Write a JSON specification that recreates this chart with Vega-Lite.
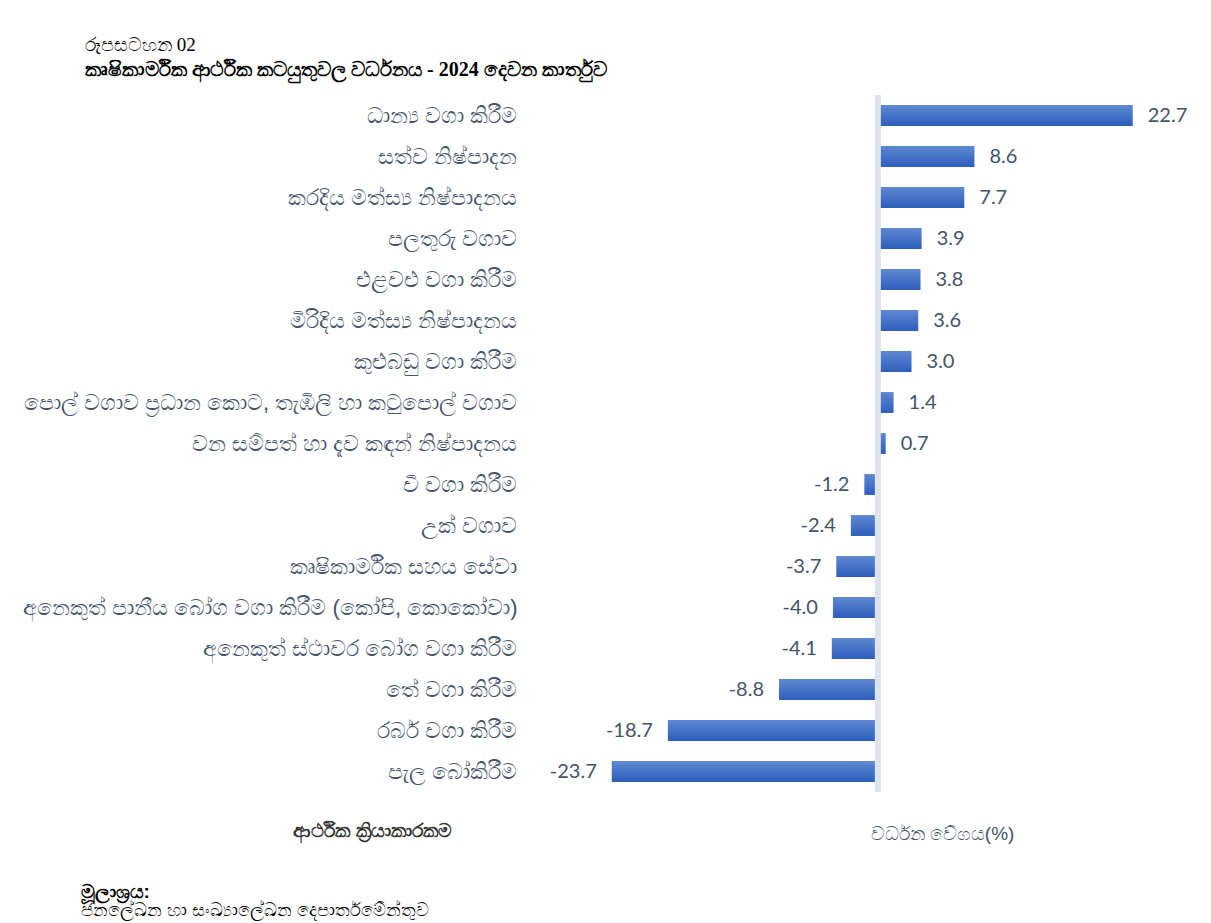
{
  "$schema": "https://vega.github.io/schema/vega-lite/v6.json",
  "width": 640,
  "height": 697,
  "autosize": {"type": "none"},
  "padding": {"left": 541, "top": 95, "right": 30, "bottom": 131},
  "background": "white",
  "config": {
    "view": {"stroke": null},
    "locale": {"number": {"decimal": ".", "thousands": ",", "grouping": [3], "currency": ["$", ""], "minus": "-"}}
  },
  "title": {
    "text": "රූපසටහන 02",
    "subtitle": "කෘෂිකාර්මික ආර්ථික කටයුතුවල වර්ධනය -  2024 දෙවන කාර්තුව",
    "anchor": "start",
    "frame": "group",
    "dx": -456,
    "font": "Liberation Serif",
    "fontSize": 19,
    "fontWeight": "normal",
    "color": "#000000",
    "subtitleFont": "Liberation Serif",
    "subtitleFontSize": 20,
    "subtitleFontWeight": "bold",
    "subtitleColor": "#000000",
    "subtitlePadding": 5,
    "offset": 12
  },
  "data": {
    "values": [
      {"activity": "ධාන්‍ය වගා කිරීම", "growth": 22.7},
      {"activity": "සත්ව නිෂ්පාදන", "growth": 8.6},
      {"activity": "කරදිය මත්ස්‍ය  නිෂ්පාදනය", "growth": 7.7},
      {"activity": "පලතුරු වගාව", "growth": 3.9},
      {"activity": "එළවළු වගා කිරීම", "growth": 3.8},
      {"activity": "මිරිදිය මත්ස්‍ය නිෂ්පාදනය", "growth": 3.6},
      {"activity": "කුළුබඩු වගා කිරීම", "growth": 3.0},
      {"activity": "පොල් වගාව ප්‍රධාන කොට, තැඹිලි  හා කටුපොල් වගාව", "growth": 1.4},
      {"activity": "වන සම්පත් හා දැව කඳන් නිෂ්පාදනය", "growth": 0.7},
      {"activity": "වී වගා කිරීම", "growth": -1.2},
      {"activity": "උක් වගාව", "growth": -2.4},
      {"activity": "කෘෂිකාර්මික සහය සේවා", "growth": -3.7},
      {"activity": "අනෙකුත් පානීය බෝග වගා කිරීම (කෝපි, කොකෝවා)", "growth": -4.0},
      {"activity": "අනෙකුත් ස්ථාවර බෝග වගා කිරීම", "growth": -4.1},
      {"activity": "තේ වගා කිරීම", "growth": -8.8},
      {"activity": "රබර් වගා කිරීම", "growth": -18.7},
      {"activity": "පැල බෝකිරීම", "growth": -23.7}
    ]
  },
  "resolve": {"axis": {"x": "independent"}},
  "layer": [
    {
      "mark": {
        "type": "bar",
        "color": {
          "gradient": "linear",
          "x1": 0, "y1": 0, "x2": 0, "y2": 1,
          "stops": [
            {"offset": 0, "color": "#6088d2"},
            {"offset": 1, "color": "#2c5ebc"}
          ]
        }
      },
      "encoding": {
        "y": {
          "field": "activity",
          "type": "nominal",
          "sort": null,
          "scale": {"paddingInner": 0.49, "paddingOuter": 0.245},
          "axis": {
            "title": "ආර්ථික ක්‍රියාකාරකම",
            "titleAngle": 0,
            "titleX": -169,
            "titleY": 735,
            "titleAlign": "center",
            "titleBaseline": "middle",
            "titleFontWeight": "bold",
            "titleFontSize": 19,
            "titleColor": "#333333",
            "domain": false,
            "ticks": false,
            "grid": false,
            "labelPadding": 24,
            "labelFontSize": 22,
            "labelColor": "#44546a",
            "labelLimit": 700
          }
        },
        "x": {
          "field": "growth",
          "type": "quantitative",
          "scale": {"domain": [-30, 27], "nice": false},
          "axis": {
            "orient": "bottom",
            "title": "වර්ධන වේගය(%)",
            "labels": false,
            "ticks": false,
            "domain": false,
            "grid": false,
            "titleX": 401,
            "titleY": 41,
            "titleAlign": "center",
            "titleBaseline": "middle",
            "titleFontSize": 19,
            "titleFontWeight": "normal",
            "titleColor": "#44546a"
          }
        }
      }
    },
    {
      "data": {"values": [{"zero": 0}]},
      "mark": {"type": "rule", "color": "#dde3eb", "strokeWidth": 6},
      "encoding": {"x": {"field": "zero", "type": "quantitative", "axis": null}}
    },
    {
      "transform": [{"filter": "datum.growth >= 0"}],
      "mark": {"type": "text", "align": "left", "baseline": "middle", "dx": 15, "font": "Lato", "fontSize": 20, "color": "#44546a"},
      "encoding": {
        "y": {"field": "activity", "type": "nominal", "sort": null},
        "x": {
          "field": "growth",
          "type": "quantitative",
          "axis": {
            "orient": "bottom",
            "title": "මූලාශ්‍රය:",
            "labels": false,
            "ticks": false,
            "domain": false,
            "grid": false,
            "titleX": -461,
            "titleY": 99,
            "titleAlign": "left",
            "titleBaseline": "middle",
            "titleFontSize": 19,
            "titleFontWeight": "bold",
            "titleColor": "#000000"
          }
        },
        "text": {"field": "growth", "type": "quantitative", "format": ".1f"}
      }
    },
    {
      "transform": [{"filter": "datum.growth < 0"}],
      "mark": {"type": "text", "align": "right", "baseline": "middle", "dx": -15, "font": "Lato", "fontSize": 20, "color": "#44546a"},
      "encoding": {
        "y": {"field": "activity", "type": "nominal", "sort": null},
        "x": {
          "field": "growth",
          "type": "quantitative",
          "axis": {
            "orient": "bottom",
            "title": "ජනලේඛන හා සංඛ්‍යාලේඛන දෙපාර්තමේන්තුව",
            "labels": false,
            "ticks": false,
            "domain": false,
            "grid": false,
            "titleX": -461,
            "titleY": 118,
            "titleAlign": "left",
            "titleBaseline": "middle",
            "titleFontSize": 18,
            "titleFontWeight": "normal",
            "titleColor": "#000000"
          }
        },
        "text": {"field": "growth", "type": "quantitative", "format": ".1f"}
      }
    }
  ]
}
